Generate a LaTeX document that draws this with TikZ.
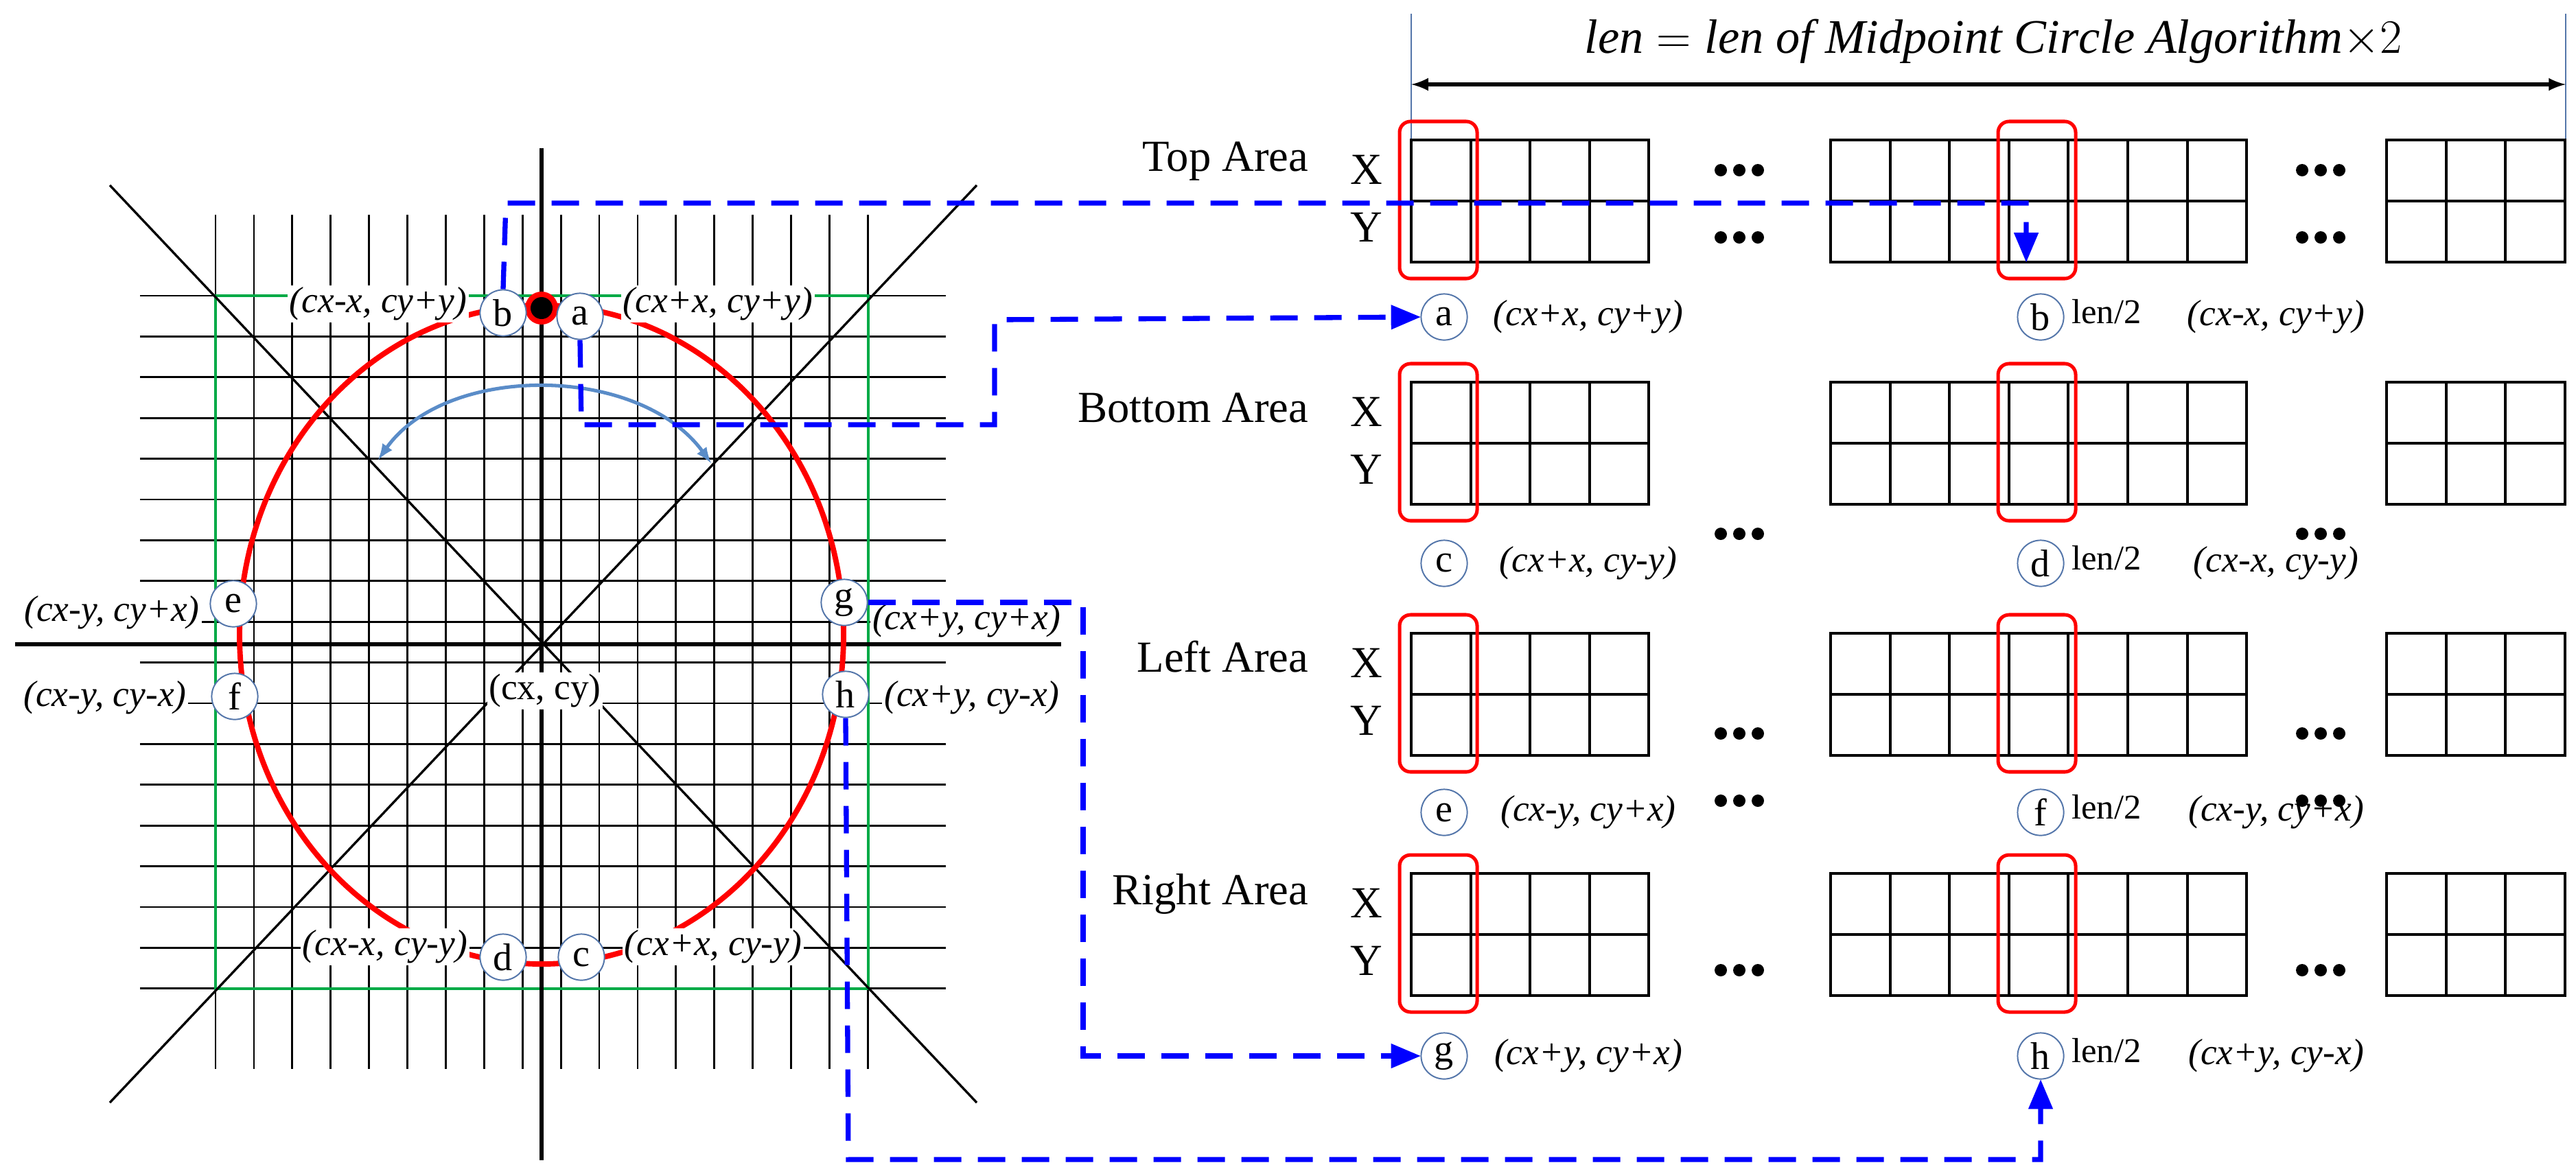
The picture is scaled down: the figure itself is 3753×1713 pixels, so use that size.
\documentclass[tikz,border=0pt]{standalone}
\usepackage{fontspec}
\setmainfont{Liberation Serif}
\usetikzlibrary{shapes,arrows}
\definecolor{ptblue}{RGB}{84,118,170}
\definecolor{arcblue}{RGB}{90,140,200}
\definecolor{gridgreen}{RGB}{0,170,70}
\tikzstyle{grid} = [black, line width=1pt]
\tikzstyle{axis} = [black, line width=1.8pt]
\tikzstyle{pt} = [circle, draw=ptblue, fill=white, line width=0.7pt,
    inner sep=0pt, minimum size=8.4mm, font=\fontsize{20}{20}\selectfont]
\tikzstyle{coordlbl} = [fill=white, inner sep=1pt, font=\fontsize{19}{19}\selectfont\itshape]
\tikzstyle{rowlbl} = [font=\fontsize{19}{19}\selectfont\itshape]
\tikzstyle{area} = [anchor=east, font=\fontsize{23}{23}\selectfont]
\tikzstyle{xy} = [font=\fontsize{23}{23}\selectfont]
\tikzstyle{cell} = [black, line width=1.4pt]
\tikzstyle{pick} = [draw=red, line width=1.8pt, rounded corners=2mm]
\tikzstyle{map} = [draw=blue, line width=2.6pt, dash pattern=on 5mm off 3mm, -triangle 45]
\newcommand{\memrow}[1]{%
    \foreach \gx/\gn in {2056/4,2667/7,3477/3}{
        \draw[cell] (\gx,#1) rectangle ++(\gn*86.6,178);
        \draw[cell] (\gx,#1+89) -- ++(\gn*86.6,0);
        \pgfmathtruncatemacro\last{\gn-1}
        \foreach \k in {1,...,\last}
            \draw[cell] (\gx+\k*86.6,#1) -- ++(0,178);
    }
    \draw[pick] (2039,#1-27) rectangle (2152,#1+202);
    \draw[pick] (2911,#1-27) rectangle (3024,#1+202);
}
\newcommand{\threedots}[2]{%
    \foreach \d in {-27,0,27}
        \fill (#1+\d,#2) circle (9);
}
\begin{document}
\begin{tikzpicture}[x=0.125mm, y=-0.125mm]
    \useasboundingbox (0,0) rectangle (3753,1713);

    % grid and guides
    \foreach \i in {0,...,17}
        \draw[grid] (314+\i*55.9,313) -- (314+\i*55.9,1558);
    \foreach \j in {0,...,17}
        \draw[grid] (204,431+\j*59.4) -- (1378,431+\j*59.4);
    \draw[gridgreen, line width=1.2pt] (314,431) rectangle (1265,1441);
    \draw[black, line width=1.2pt] (160,270) -- (1423,1607);
    \draw[black, line width=1.2pt] (1423,270) -- (160,1607);
    \draw[axis] (789,216) -- (789,1691);
    \draw[axis] (22,939) -- (1546,939);
    \draw[red, line width=2.8pt] (789,925) ellipse [x radius=440, y radius=480];
    \fill[red] (789,449) circle (24);
    \fill[black] (789,449) circle (16);
    \draw[arcblue, line width=1.8pt, latex-latex] (551,670) .. controls (650,530) and (930,530) .. (1036,675);

    % points on the circle
    \node[coordlbl] (center) at (794,1007) {\upshape(cx, cy)};
    \node[coordlbl] (tb) at (551,443) {(cx-x, cy+y)};
    \node[coordlbl] (ta) at (1046,443) {(cx+x, cy+y)};
    \node[coordlbl] (te) at (163,893) {(cx-y, cy+x)};
    \node[coordlbl] (tg) at (1408,905) {(cx+y, cy+x)};
    \node[coordlbl] (tf) at (153,1017) {(cx-y, cy-x)};
    \node[coordlbl] (th) at (1416,1017) {(cx+y, cy-x)};
    \node[coordlbl] (td) at (561,1380) {(cx-x, cy-y)};
    \node[coordlbl] (tc) at (1039,1380) {(cx+x, cy-y)};
    \node[pt] (b) at (733,456) {b};
    \node[pt] (a) at (845,461) {a};
    \node[pt] (e) at (340,880) {e};
    \node[pt] (f) at (342,1015) {f};
    \node[pt] (g) at (1230,878) {g};
    \node[pt] (h) at (1232,1012) {h};
    \node[pt] (d) at (733,1395) {d};
    \node[pt] (c) at (847,1395) {c};

    % memory layout
    \coordinate (dimL) at (2056,123);
    \coordinate (dimR) at (3738,123);
    \draw[ptblue, line width=0.5pt] (2056,20) -- (2056,333);
    \draw[ptblue, line width=0.5pt] (3738,20) -- (3738,333);
    \draw[black, line width=2pt, latex-latex] (dimL) -- (dimR);
    \node[font=\fontsize{25}{25}\selectfont] (title) at (2904,60)
        {$\mathit{len} = \mathit{len\ of\ Midpoint\ Circle\ Algorithm}{\times}2$};

    \memrow{204}
    \memrow{557}
    \memrow{923}
    \memrow{1273}
    \node[area] (toparea) at (1916,235) {Top Area};
    \node[area] (bottomarea) at (1916,594) {Bottom Area};
    \node[area] (leftarea) at (1916,957) {Left Area};
    \node[area] (rightarea) at (1916,1303) {Right Area};
    \foreach \ty in {204,557,923,1273}{
        \node[xy] at (1991,\ty+43) {X};
        \node[xy] at (1991,\ty+127) {Y};
    }
    \threedots{2534}{248} \threedots{3381}{248}
    \threedots{2534}{346} \threedots{3381}{346}
    \threedots{2534}{778} \threedots{3381}{778}
    \threedots{2534}{1069} \threedots{3381}{1069}
    \threedots{2534}{1167} \threedots{3381}{1167}
    \threedots{2534}{1414} \threedots{3381}{1414}

    % slot labels
    \foreach \ly/\lo/\ro/\lt/\rt in {462/a/b/{(cx+x, cy+y)}/{(cx-x, cy+y)},
            821/c/d/{(cx+x, cy-y)}/{(cx-x, cy-y)},
            1184/e/f/{(cx-y, cy+x)}/{(cx-y, cy+x)},
            1539/g/h/{(cx+y, cy+x)}/{(cx+y, cy-x)}}{
        \node[pt] (l\lo) at (2104,\ly) {\lo};
        \node[rowlbl] at (2314,\ly) {\lt};
        \node[pt] (l\ro) at (2973,\ly) {\ro};
        \node[font=\fontsize{18}{18}\selectfont] at (3069,\ly-8) {len/2};
        \node[rowlbl] at (3316,\ly) {\rt};
    }

    % mappings
    \coordinate (bdrop) at (2952,382);
    \draw[map] (b.north) -- (737,296) -- (2952,296) -- (bdrop);
    \draw[map] (a.south) -- (847,619) -- (1449,619) -- (1449,466) -- (la.west);
    \draw[map] (g.east) -| (1578,1539) -- (lg.west);
    \draw[map] (h.south) -- (1236,1690) -- (lh.south |- 0,1690) -- (lh.south);
\end{tikzpicture}
\end{document}
